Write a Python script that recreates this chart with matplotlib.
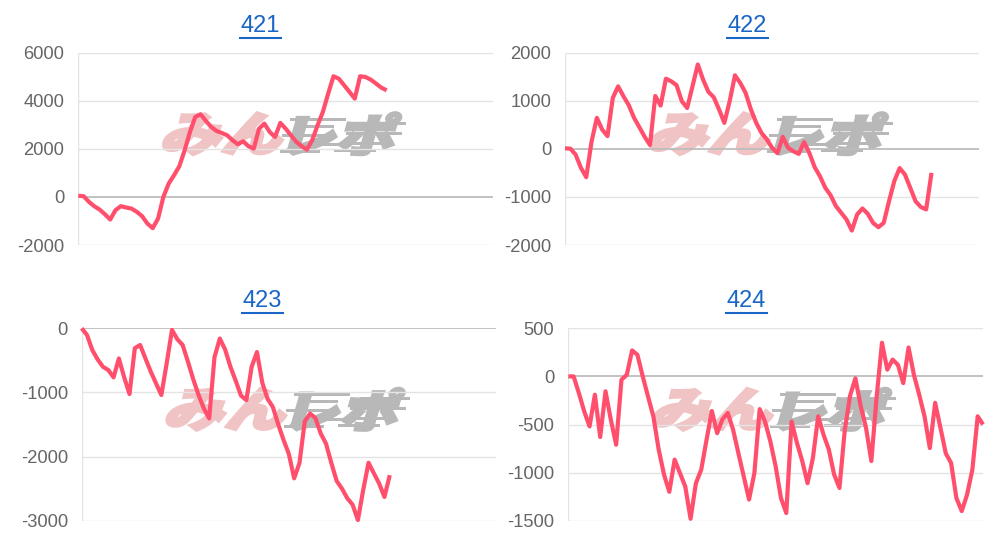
import matplotlib
matplotlib.use("Agg")
import matplotlib.pyplot as plt
import numpy as np
from matplotlib.textpath import TextPath
from matplotlib.patches import PathPatch, Rectangle
from matplotlib.font_manager import FontProperties
from matplotlib.transforms import Affine2D, IdentityTransform
from matplotlib.lines import Line2D

plt.rcParams['axes.unicode_minus'] = False

# ---------------- data ----------------
titles = ['421', '422', '423', '424']
n_days = 79

s421 = [50, 30, -205, -385, -525, -720, -940, -550, -385, -440, -485, -620, -800, -1110,
        -1300, -900, 0, 555, 900, 1275, 1940, 2700, 3325, 3440, 3160, 2910, 2745, 2660,
        2565, 2360, 2190, 2315, 2110, 2010, 2840, 3050, 2700, 2495, 3080, 2840, 2565, 2290,
        2110, 1970, 2360, 2980, 3535, 4300, 5020, 4920, 4645, 4370, 4090, 5020, 4990, 4880,
        4715, 4545, 4435]
s422 = [10, 5, -120, -395, -590, 150, 645, 400, 265, 1060, 1300, 1095, 910, 645, 450, 250,
        80, 1100, 900, 1460, 1405, 1325, 990, 850, 1300, 1755, 1440, 1185, 1075, 820, 540,
        990, 1530, 1370, 1165, 820, 540, 330, 195, 20, -90, 250, 20, -50, -105, 140, -85,
        -380, -570, -810, -965, -1190, -1330, -1470, -1700, -1365, -1240, -1350, -1540,
        -1630, -1540, -1090, -670, -400, -535, -810, -1090, -1210, -1260, -500]
s423 = [0, -105, -340, -485, -600, -650, -765, -470, -765, -1025, -310, -260, -470, -675,
        -860, -1040, -545, -25, -170, -260, -520, -795, -1040, -1250, -1405, -450, -160,
        -330, -600, -820, -1050, -1120, -600, -370, -850, -1100, -1230, -1500, -1740, -1960,
        -2340, -2100, -1450, -1330, -1400, -1640, -1800, -2100, -2380, -2500, -2650, -2750,
        -2990, -2520, -2096, -2260, -2420, -2630, -2290]
s424 = [0, 0, -175, -365, -520, -190, -630, -155, -450, -710, -35, 17, 270, 225, 0, -210,
        -415, -760, -1020, -1200, -865, -1005, -1145, -1480, -1110, -970, -660, -360, -590,
        -445, -380, -555, -800, -1040, -1280, -1005, -340, -470, -675, -935, -1265, -1420,
        -470, -690, -880, -1110, -850, -415, -605, -760, -1020, -1160, -560, -200, -20,
        -310, -535, -880, -210, 350, 70, 175, 120, -70, 300, 17, -190, -415, -745, -275,
        -535, -800, -900, -1265, -1400, -1230, -970, -415, -500]

yticks421 = [-2000, 0, 2000, 4000, 6000]
yticks422 = [-2000, -1000, 0, 1000, 2000]
yticks423 = [-3000, -2000, -1000, 0]
yticks424 = [-1500, -1000, -500, 0, 500]

series = [s421, s422, s423, s424]
yticks = [yticks421, yticks422, yticks423, yticks424]

# ---------------- layout (pixels) ----------------
W, H = 1000, 544
fig = plt.figure(figsize=(W / 100, H / 100), dpi=100)

boxes = [(78.3, 493.0, 52.7, 245.0),
         (565.0, 979.3, 52.7, 245.0),
         (81.7, 496.0, 328.3, 520.7),
         (568.3, 983.0, 328.3, 520.7)]
title_pos = [(260, 26), (747, 26), (262, 301), (746, 301)]

LINE = '#ff4f6d'
TICK = '#666666'
GRID = '#e4e4e4'
ZERO = '#bdbdbd'
TITLE = '#1a66c6'
FONT = 'Liberation Sans'
PINK = '#f0c4c4'
GREY = '#b8b8b8'

jp = FontProperties(family='Noto Sans CJK JP', weight='black')


def watermark(left, top):
    h = 42.0
    base_y = H - (top + 60) - h
    for txt, x0, w, col in (("みん", left + 88, 118, PINK),
                            ("レポ", left + 214, 104, GREY)):
        tp = TextPath((0, 0), txt, size=100, prop=jp)
        bb = tp.get_extents()
        sx = w / bb.width
        sy = h / bb.height
        tr = (Affine2D().translate(-bb.x0, -bb.y0).scale(sx, sy)
              .skew_deg(16, 0).translate(x0 - 6, base_y))
        patch = PathPatch(tp, transform=tr, facecolor=col, edgecolor=col,
                          lw=2.2, joinstyle='miter', zorder=-1)
        fig.add_artist(patch)
    # speed lines across the grey part
    for dy, x1, x2 in ((34, 206, 262), (27, 222, 250), (18, 198, 240),
                       (9, 205, 258), (2, 196, 236), (30, 272, 322), (20, 262, 318),
                       (10, 258, 300), (3, 250, 292)):
        rect = Rectangle((left + x1 + 6, base_y + dy), x2 - x1, 3.2,
                         transform=IdentityTransform(), facecolor=GREY,
                         edgecolor='none', zorder=-1)
        fig.add_artist(rect)


for i in range(4):
    l, r, t, b = boxes[i]
    ax = fig.add_axes([l / W, 1 - b / H, (r - l) / W, (b - t) / H])
    ax.set_facecolor('none')
    yt = yticks[i]
    data = series[i]
    x = np.arange(len(data))
    ax.set_xlim(0, n_days - 1)
    ax.set_ylim(yt[0], yt[-1])
    for v in yt:
        ax.axhline(v, color=ZERO if v == 0 else GRID, lw=1.3 if v == 0 else 1.0,
                   zorder=0.5)
    ax.axvline(0, color=GRID, lw=1.0, zorder=0.5)
    ax.plot(x, data, color=LINE, lw=3.0, solid_joinstyle='round',
            solid_capstyle='butt', zorder=3, clip_on=False)
    ax.set_yticks(yt)
    ax.set_yticklabels([str(v) for v in yt], fontfamily=FONT, fontsize=13.2,
                       color=TICK)
    ax.set_xticks([])
    ax.tick_params(axis='y', length=0, pad=10)
    for s in ax.spines.values():
        s.set_visible(False)
    watermark(l, t)
    tx, ty = title_pos[i]
    fig.text(tx / W, 1 - ty / H, titles[i], ha='center', va='center',
             fontsize=17, color=TITLE, fontfamily=FONT)
    fig.add_artist(Line2D([(tx - 20.5) / W, (tx + 20.5) / W],
                          [1 - (ty + 11.5) / H, 1 - (ty + 11.5) / H],
                          color=TITLE, lw=1.5, transform=fig.transFigure))

fig.savefig('out.png', dpi=100, facecolor='white')
